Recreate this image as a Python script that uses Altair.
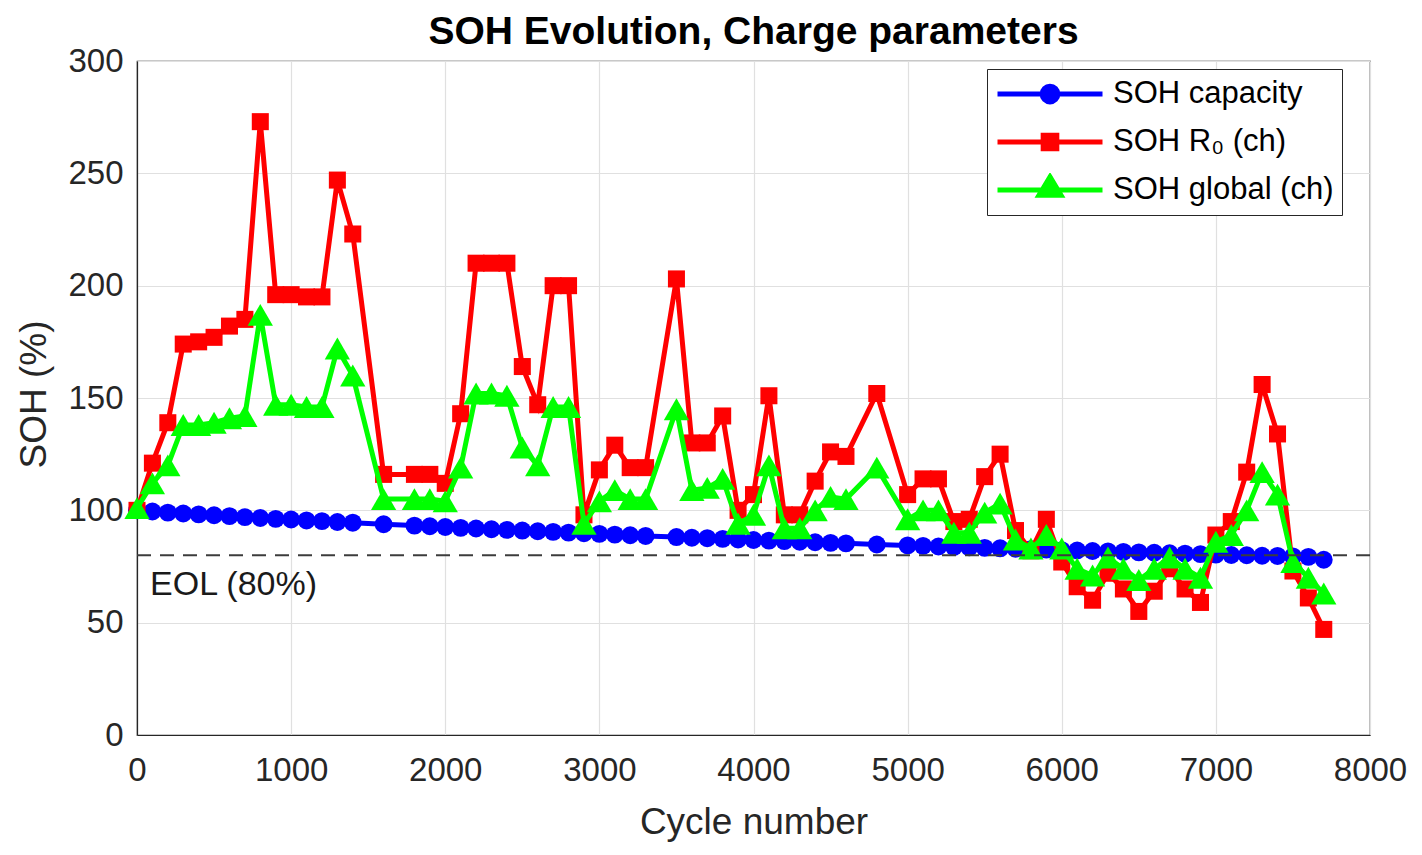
import altair as alt
import pandas as pd

# ---------------- data ----------------
cycles = [0, 100, 200, 300, 400, 500, 600, 700, 800, 900, 1000, 1100, 1200, 1300, 1400,
          1600, 1800, 1900, 2000, 2100, 2200, 2300, 2400, 2500, 2600, 2700, 2800, 2900,
          3000, 3100, 3200, 3300, 3500, 3600, 3700, 3800, 3900, 4000, 4100, 4200, 4300,
          4400, 4500, 4600, 4800, 5000, 5100, 5200, 5300, 5400, 5500, 5600, 5700, 5800,
          5900, 6000, 6100, 6200, 6300, 6400, 6500, 6600, 6700, 6800, 6900, 7000, 7100,
          7200, 7300, 7400, 7500, 7600, 7700]

soh_capacity = [100.0, 99.5, 99.0, 98.6, 98.2, 97.8, 97.4, 97.0, 96.6, 96.2, 95.9, 95.5, 95.2, 94.8, 94.5,
                93.8, 93.2, 92.9, 92.6, 92.2, 91.9, 91.6, 91.3, 91.0, 90.7, 90.4, 90.1, 89.8,
                89.5, 89.2, 88.9, 88.6, 88.1, 87.8, 87.6, 87.3, 87.0, 86.8, 86.5, 86.3, 86.0,
                85.8, 85.5, 85.3, 84.8, 84.4, 84.2, 83.9, 83.7, 83.5, 83.3, 83.1, 82.9, 82.7,
                82.5, 82.3, 82.1, 81.9, 81.7, 81.5, 81.3, 81.1, 80.9, 80.7, 80.5, 80.3, 80.1,
                80.0, 79.8, 79.7, 79.5, 79.3, 78.0]

soh_r0 = [100, 121, 139, 174, 175, 177, 182, 185, 273, 196, 196, 195, 195, 247, 223,
          116, 116, 116, 112, 143, 210, 210, 210, 164, 147, 200, 200, 98,
          118, 129, 119, 119, 203, 130, 130, 142, 100, 107, 151, 98, 98,
          113, 126, 124, 152, 107, 114, 114, 95, 96, 115, 125, 91, 82,
          96, 77, 66, 60, 72, 65, 55, 64, 74, 65, 59, 89, 95,
          117, 156, 134, 73, 61, 47]

soh_global = [101, 112, 120, 138, 138, 139, 141, 142, 187, 147, 147, 146, 146, 172, 160,
              105, 105, 105, 104, 119, 152, 152, 151, 128, 120, 146, 146, 94,
              104, 109, 105, 105, 145, 109, 110, 114, 94, 98, 120, 92, 92,
              100, 106, 105, 119, 96, 100, 100, 90, 90, 99, 103, 87, 83,
              89, 83, 74, 71, 79, 74, 69, 74, 79, 74, 70, 86, 89,
              100, 117, 107, 77, 70, 63]

series_names = ["SOH capacity", "SOH R\u2080 (ch)", "SOH global (ch)"]
series_colors = ["#0000FF", "#FF0000", "#00FF00"]
marker_shapes = ["circle", "square", "triangle-up"]
marker_sizes = [320, 290, 640]

# legend symbols: a line segment with the marker in its middle
legend_paths = [
    "M-1,0L1,0M0.15,0A0.15,0.15,0,1,1,-0.15,0A0.15,0.15,0,1,1,0.15,0Z",
    "M-1,0L1,0M-0.13,-0.13L0.13,-0.13L0.13,0.13L-0.13,0.13Z",
    "M-1,0L1,0M0,-0.25L0.21,0.1L-0.21,0.1Z",
]

x_ticks = [0, 1000, 2000, 3000, 4000, 5000, 6000, 7000, 8000]
y_ticks = [0, 50, 100, 150, 200, 250, 300]

eol_level = [80]
eol_label = ["EOL (80%)"]
eol_label_cycle = [85]
eol_label_soh = [62.5]

title_text = "SOH Evolution, Charge parameters"
x_title = "Cycle number"
y_title = "SOH (%)"

# ---------------- build tables ----------------
rows = []
for name, vals in zip(series_names, [soh_capacity, soh_r0, soh_global]):
    for c, v in zip(cycles, vals):
        rows.append({"cycle": c, "soh": v, "series": name})
df = pd.DataFrame(rows)

FONT = "Liberation Sans"
AX = "#262626"

x_enc = alt.X(
    "cycle:Q",
    scale=alt.Scale(domain=[0, 8000], nice=False, zero=False),
    axis=alt.Axis(
        values=x_ticks, format="d", title=x_title, grid=True, ticks=False,
        labelFont=FONT, labelFontSize=33, labelColor=AX, labelPadding=19,
        labelFlush=False, labelOverlap=False,
        titleFont=FONT, titleFontSize=37, titleFontWeight="normal", titleColor=AX,
        titleY=98, titleBaseline="alphabetic",
        domainColor=AX, domainWidth=1.2,
        gridColor="#e0e0e0", gridWidth=1.2,
    ),
)
y_enc = alt.Y(
    "soh:Q",
    scale=alt.Scale(domain=[0, 300], nice=False),
    axis=alt.Axis(
        values=y_ticks, title=y_title, grid=True, ticks=False,
        labelFont=FONT, labelFontSize=33, labelColor=AX, labelPadding=14,
        labelFlush=False, labelOverlap=False,
        titleFont=FONT, titleFontSize=37, titleFontWeight="normal", titleColor=AX,
        titleX=-92, titleY=333, titleBaseline="alphabetic", titleAngle=270,
        domainColor=AX, domainWidth=1.2,
        gridColor="#e0e0e0", gridWidth=1.2,
    ),
)

layers = []
for name, color, shape, size in zip(series_names, series_colors, marker_shapes, marker_sizes):
    base = alt.Chart(df).transform_filter(alt.FieldEqualPredicate(field="series", equal=name))
    layers.append(base.mark_line(color=color, strokeWidth=5).encode(x=x_enc, y=y_enc))
    layers.append(
        base.mark_point(shape=shape, filled=True, color=color, size=size, opacity=1)
        .encode(x=x_enc, y=y_enc)
    )

# EOL dashed line and label
rule = alt.Chart(pd.DataFrame({"soh": eol_level})).mark_rule(
    color="#3c3c3c", strokeWidth=1.8, strokeDash=[14, 9]
).encode(y=y_enc)
eol_text = alt.Chart(
    pd.DataFrame({"cycle": eol_label_cycle, "soh": eol_label_soh, "label": eol_label})
).mark_text(
    align="left", baseline="alphabetic", font=FONT, fontSize=34, color="#1a1a1a"
).encode(x=x_enc, y=y_enc, text="label:N")

# legend-only layer (no visible rows)
leg = alt.Legend(
    title=None, orient="none", legendX=850, legendY=8, direction="vertical",
    symbolSize=11025, symbolStrokeWidth=5, clipHeight=34, rowPadding=14,
    padding=8, labelOffset=8, labelFont=FONT, labelFontSize=31, labelColor="black",
    labelLimit=500, strokeColor=AX, fillColor="white", cornerRadius=0,
)
legend_layer = alt.Chart(df).transform_filter(alt.datum.cycle < 0).mark_point(
    filled=False, strokeWidth=5, opacity=1
).encode(
    x=x_enc, y=y_enc,
    color=alt.Color("series:N", scale=alt.Scale(domain=series_names, range=series_colors), legend=leg),
    fill=alt.Fill("series:N", scale=alt.Scale(domain=series_names, range=series_colors), legend=leg),
    shape=alt.Shape("series:N", scale=alt.Scale(domain=series_names, range=legend_paths), legend=leg),
)

chart = alt.layer(*layers, rule, eol_text, legend_layer).properties(
    width=1233,
    height=674,
    autosize=alt.AutoSizeParams(type="none"),
    padding={"left": 129, "top": 53, "right": 44, "bottom": 112},
    title=alt.TitleParams(
        title_text, font=FONT, fontSize=39, fontWeight="bold", color="black",
        anchor="middle", frame="group", offset=4, dy=11,
    ),
    background="white",
).configure_view(stroke=AX, strokeWidth=1.2)

chart.save("out.html", embed_options={"renderer": "svg", "actions": False})
